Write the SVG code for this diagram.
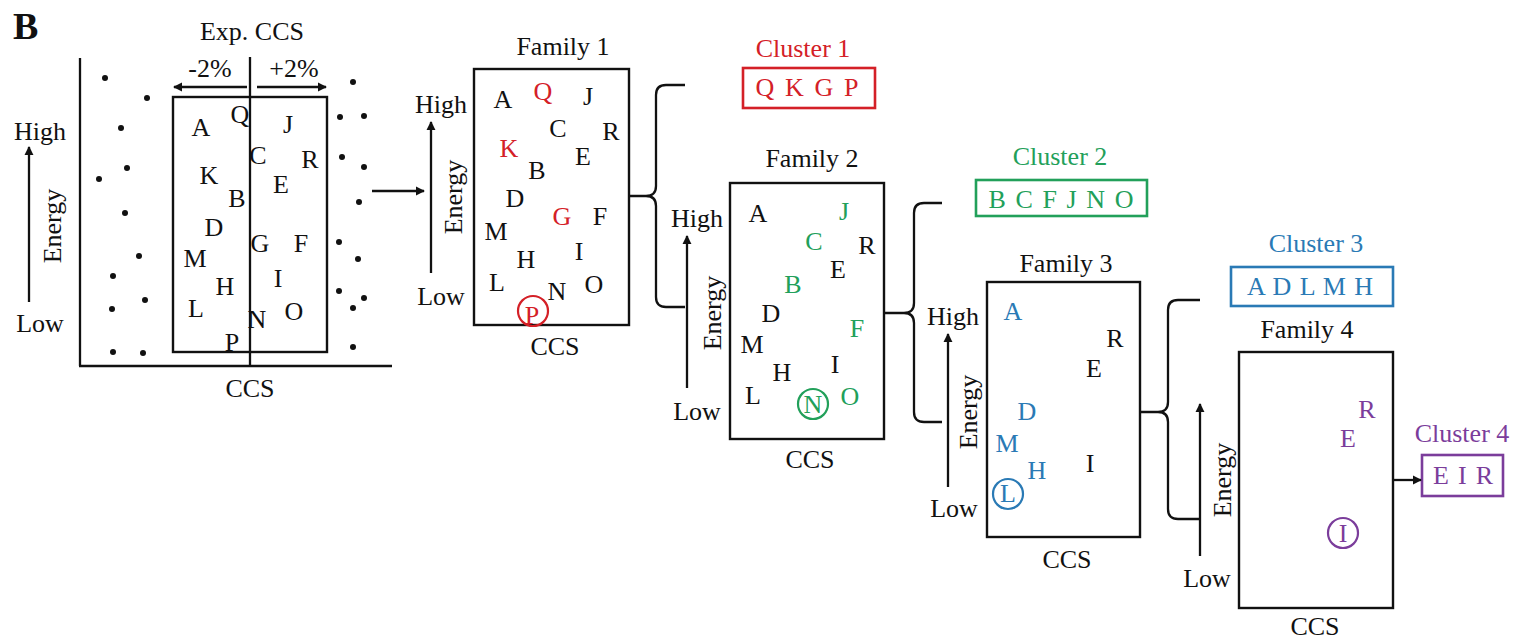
<svg xmlns="http://www.w3.org/2000/svg" width="1515" height="643" viewBox="0 0 1515 643">
  <style>
    text { font-family: "Liberation Serif", "Times New Roman", serif; font-size: 26px; fill: #111; }
    .m { text-anchor: middle; }
    .ln { stroke: #111; stroke-width: 2.3; fill: none; }
    .box { stroke: #111; stroke-width: 2.4; fill: #fff; }
    .dot { fill: #111; }
    .red { fill: #d42027; }
    .grn { fill: #22a05a; }
    .blu { fill: #2a7ab5; }
    .pur { fill: #7b3d9b; }
    .cred { stroke: #d42027; }
    .cgrn { stroke: #22a05a; }
    .cblu { stroke: #2a7ab5; }
    .cpur { stroke: #7b3d9b; }
    .ring { fill: none; stroke-width: 2.2; }
    .cbox { fill: #fff; stroke-width: 2.6; }
  </style>
  <defs>
    <marker id="ah" viewBox="0 0 10 10" refX="9" refY="5" markerWidth="4" markerHeight="4" orient="auto-start-reverse" markerUnits="strokeWidth">
      <path d="M0,0 L10,5 L0,10 z" fill="#111"/>
    </marker>
  </defs>
  <rect width="1515" height="643" fill="#fff"/>

  <text x="13" y="39" style="font-weight:bold;font-size:38px">B</text>

  <!-- Scatter of conformers around the experimental CCS -->
  <g id="scatter">
    <line class="ln" x1="80" y1="58" x2="80" y2="366"/>
    <line class="ln" x1="79" y1="366" x2="392" y2="366"/>
    <rect class="box" x="173" y="97" width="154" height="255" style="fill:none"/>
    <line class="ln" x1="250" y1="57" x2="250" y2="367"/>
    <line class="ln" x1="247" y1="87" x2="174" y2="87" marker-end="url(#ah)"/>
    <line class="ln" x1="257" y1="87" x2="326" y2="87" marker-end="url(#ah)"/>
    <text class="m" x="252" y="40">Exp. CCS</text>
    <text class="m" x="210" y="77">-2%</text>
    <text class="m" x="294" y="77">+2%</text>
    <line class="ln" x1="29" y1="302" x2="29" y2="147" marker-end="url(#ah)"/>
    <text class="m" x="40" y="140">High</text>
    <text class="m" x="40" y="332">Low</text>
    <text class="m" transform="translate(61,226) rotate(-90)">Energy</text>
    <text class="m" x="250" y="397">CCS</text>
    <g class="m">
      <text x="201" y="136">A</text>
      <text x="240" y="123">Q</text>
      <text x="288" y="133">J</text>
      <text x="258" y="164">C</text>
      <text x="310" y="168">R</text>
      <text x="209" y="184">K</text>
      <text x="281" y="193">E</text>
      <text x="237" y="207">B</text>
      <text x="214" y="236">D</text>
      <text x="260" y="252">G</text>
      <text x="301" y="252">F</text>
      <text x="195" y="267">M</text>
      <text x="278" y="287">I</text>
      <text x="225" y="295">H</text>
      <text x="196" y="317">L</text>
      <text x="294" y="320">O</text>
      <text x="257" y="328">N</text>
      <text x="232" y="351">P</text>
    </g>
    <g class="dot">
      <circle cx="105" cy="78" r="3"/>
      <circle cx="147" cy="98" r="3"/>
      <circle cx="121" cy="128" r="3"/>
      <circle cx="127" cy="168" r="3"/>
      <circle cx="99" cy="179" r="3"/>
      <circle cx="125" cy="213" r="3"/>
      <circle cx="139" cy="256" r="3"/>
      <circle cx="113" cy="276" r="3"/>
      <circle cx="145" cy="300" r="3"/>
      <circle cx="112" cy="309" r="3"/>
      <circle cx="113" cy="352" r="3"/>
      <circle cx="143" cy="353" r="3"/>
      <circle cx="353" cy="82" r="3"/>
      <circle cx="340" cy="117" r="3"/>
      <circle cx="364" cy="116" r="3"/>
      <circle cx="342" cy="157" r="3"/>
      <circle cx="364" cy="167" r="3"/>
      <circle cx="359" cy="202" r="3"/>
      <circle cx="339" cy="242" r="3"/>
      <circle cx="358" cy="259" r="3"/>
      <circle cx="339" cy="291" r="3"/>
      <circle cx="364" cy="298" r="3"/>
      <circle cx="353" cy="308" r="3"/>
      <circle cx="353" cy="347" r="3"/>
    </g>
  </g>

  <!-- Family 1 -->
  <g id="family1">
    <text class="m" x="563" y="55">Family 1</text>
    <rect class="box" x="474" y="69" width="155" height="256"/>
    <line class="ln" x1="431" y1="273" x2="431" y2="122" marker-end="url(#ah)"/>
    <text class="m" x="441" y="113">High</text>
    <text class="m" x="441" y="305">Low</text>
    <text class="m" transform="translate(462,197) rotate(-90)">Energy</text>
    <text class="m" x="555" y="355">CCS</text>
    <g class="m">
      <text x="503" y="108">A</text>
      <text class="red" x="543" y="100">Q</text>
      <text x="588" y="105">J</text>
      <text x="558" y="137">C</text>
      <text x="611" y="140">R</text>
      <text class="red" x="509" y="157">K</text>
      <text x="583" y="165">E</text>
      <text x="537" y="179">B</text>
      <text x="515" y="207">D</text>
      <text class="red" x="562" y="225">G</text>
      <text x="600" y="225">F</text>
      <text x="496" y="240">M</text>
      <text x="579" y="260">I</text>
      <text x="526" y="268">H</text>
      <text x="497" y="291">L</text>
      <text x="594" y="293">O</text>
      <text x="557" y="300">N</text>
      <text class="red" x="532" y="324">P</text>
    </g>
    <circle class="ring cred" cx="533" cy="311" r="15"/>
  </g>

  <!-- Cluster 1 -->
  <g id="cluster1">
    <text class="m red" x="803" y="57">Cluster 1</text>
    <rect class="cbox cred" x="743" y="68" width="132" height="40"/>
    <text class="m red" x="807" y="96" textLength="103" lengthAdjust="spacing">Q K G P</text>
  </g>

  <!-- Family 2 -->
  <g id="family2">
    <text class="m" x="812" y="167">Family 2</text>
    <rect class="box" x="730" y="183" width="154" height="256"/>
    <line class="ln" x1="687" y1="388" x2="687" y2="236" marker-end="url(#ah)"/>
    <text class="m" x="697" y="227">High</text>
    <text class="m" x="697" y="420">Low</text>
    <text class="m" transform="translate(721,313) rotate(-90)">Energy</text>
    <text class="m" x="810" y="468">CCS</text>
    <g class="m">
      <text x="758" y="222">A</text>
      <text class="grn" x="844" y="220">J</text>
      <text class="grn" x="814" y="250">C</text>
      <text x="867" y="254">R</text>
      <text x="838" y="278">E</text>
      <text class="grn" x="793" y="293">B</text>
      <text x="771" y="322">D</text>
      <text class="grn" x="857" y="337">F</text>
      <text x="752" y="353">M</text>
      <text x="835" y="373">I</text>
      <text x="782" y="381">H</text>
      <text x="753" y="404">L</text>
      <text class="grn" x="813" y="413">N</text>
      <text class="grn" x="850" y="405">O</text>
    </g>
    <circle class="ring cgrn" cx="813" cy="404" r="15"/>
  </g>

  <!-- Cluster 2 -->
  <g id="cluster2">
    <text class="m grn" x="1060" y="165">Cluster 2</text>
    <rect class="cbox cgrn" x="976" y="180" width="171" height="36"/>
    <text class="m grn" x="1061" y="208" textLength="145" lengthAdjust="spacing">B C F J N O</text>
  </g>

  <!-- Family 3 -->
  <g id="family3">
    <text class="m" x="1066" y="272">Family 3</text>
    <rect class="box" x="987" y="282" width="153" height="255"/>
    <line class="ln" x1="948" y1="487" x2="948" y2="334" marker-end="url(#ah)"/>
    <text class="m" x="953" y="325">High</text>
    <text class="m" x="954" y="517">Low</text>
    <text class="m" transform="translate(977,412) rotate(-90)">Energy</text>
    <text class="m" x="1067" y="568">CCS</text>
    <g class="m">
      <text class="blu" x="1013" y="320">A</text>
      <text x="1115" y="347">R</text>
      <text x="1094" y="377">E</text>
      <text class="blu" x="1027" y="420">D</text>
      <text class="blu" x="1007" y="452">M</text>
      <text class="blu" x="1037" y="479">H</text>
      <text x="1090" y="472">I</text>
      <text class="blu" x="1008" y="502">L</text>
    </g>
    <circle class="ring cblu" cx="1008" cy="494" r="15"/>
  </g>

  <!-- Cluster 3 -->
  <g id="cluster3">
    <text class="m blu" x="1316" y="252">Cluster 3</text>
    <rect class="cbox cblu" x="1231" y="267" width="162" height="39"/>
    <text class="m blu" x="1310" y="295" textLength="126" lengthAdjust="spacing">A D L M H</text>
  </g>

  <!-- Family 4 -->
  <g id="family4">
    <text class="m" x="1307" y="338">Family 4</text>
    <rect class="box" x="1239" y="352" width="154" height="256"/>
    <line class="ln" x1="1200" y1="556" x2="1200" y2="404" marker-end="url(#ah)"/>
    <text class="m" x="1207" y="587">Low</text>
    <text class="m" transform="translate(1231,480) rotate(-90)">Energy</text>
    <text class="m" x="1315" y="635">CCS</text>
    <g class="m">
      <text class="pur" x="1367" y="418">R</text>
      <text class="pur" x="1348" y="447">E</text>
      <text class="pur" x="1343" y="542">I</text>
    </g>
    <circle class="ring cpur" cx="1343" cy="533" r="15"/>
  </g>

  <!-- Cluster 4 -->
  <g id="cluster4">
    <text class="m pur" x="1462" y="442">Cluster 4</text>
    <rect class="cbox cpur" x="1422" y="455" width="81" height="41"/>
    <text class="m pur" x="1463" y="484" textLength="60" lengthAdjust="spacing">E I R</text>
  </g>

  <!-- Connectors: arrows and braces between the stages -->
  <g id="connectors">
    <line class="ln" x1="372" y1="191" x2="424" y2="191" marker-end="url(#ah)"/>
    <path class="ln" d="M685 85 L666 85 Q656 85 656 95 L656 186 Q656 196 646 196 L629 196 M646 196 Q656 196 656 206 L656 297 Q656 307 666 307 L685 307"/>
    <path class="ln" d="M942 203 L924 203 Q914 203 914 213 L914 303 Q914 313 904 313 L884 313 M904 313 Q914 313 914 323 L914 412 Q914 422 924 422 L942 422"/>
    <path class="ln" d="M1200 300 L1178 300 Q1168 300 1168 310 L1168 402 Q1168 412 1158 412 L1140 412 M1158 412 Q1168 412 1168 422 L1168 509 Q1168 519 1178 519 L1200 519"/>
    <line class="ln" x1="1393" y1="480" x2="1421" y2="480" marker-end="url(#ah)"/>
  </g>
</svg>
